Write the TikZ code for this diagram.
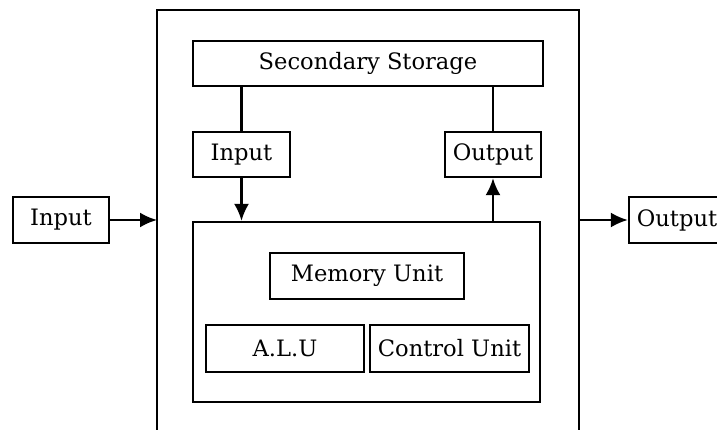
\documentclass[tikz,border=0pt]{standalone}
\usepackage{fontspec}
\setmainfont{DejaVu Serif}
\usetikzlibrary{arrows.meta}
\begin{document}
\begin{tikzpicture}[x=1pt,y=-1pt,
  box/.style={draw,line width=2.3pt,inner sep=0pt,font=\fontsize{22.6}{26}\selectfont},
  conn/.style={line width=2.3pt},
  arr/.style={line width=2.3pt,-{Latex[length=17pt,width=15pt]}}]
\useasboundingbox (0,0) rectangle (717,430);
% outer frame (open at bottom)
\draw[line width=2.3pt] (157,431) -- (157,10) -- (579,10) -- (579,431);
\node[box,minimum width=350pt,minimum height=45pt] (ss) at (368,63.5) {Secondary Storage};
\node[box,minimum width=97pt,minimum height=45pt] (in2) at (241.5,154.5) {Input};
\node[box,minimum width=96pt,minimum height=45pt] (out2) at (493,154.5) {Output};
\node[box,minimum width=96pt,minimum height=46pt] (inL) at (61,220) {Input};
\node[box,minimum width=96pt,minimum height=46pt] (outR) at (677,220) {Output};
\node[draw,line width=2.3pt,minimum width=347pt,minimum height=180pt] (main) at (366.5,312) {};
\node[box,minimum width=194pt,minimum height=46pt] (mem) at (367,276) {Memory Unit};
\node[box,minimum width=158pt,minimum height=47pt] (alu) at (285,348.5) {A.L.U};
\node[box,minimum width=159pt,minimum height=47pt] (cu) at (449.5,348.5) {Control Unit};
\coordinate (fl) at (157,220);
\coordinate (fr) at (579,220);
\draw[conn] (ss.south -| in2.north) -- (in2.north);
\draw[arr] (in2.south) -- (in2.south |- main.north);
\draw[conn] (ss.south -| out2.north) -- (out2.north);
\draw[arr] (main.north -| out2.south) -- (out2.south);
\draw[arr] (inL.east) -- (fl);
\draw[arr] (fr) -- (outR.west);
\end{tikzpicture}
\end{document}
